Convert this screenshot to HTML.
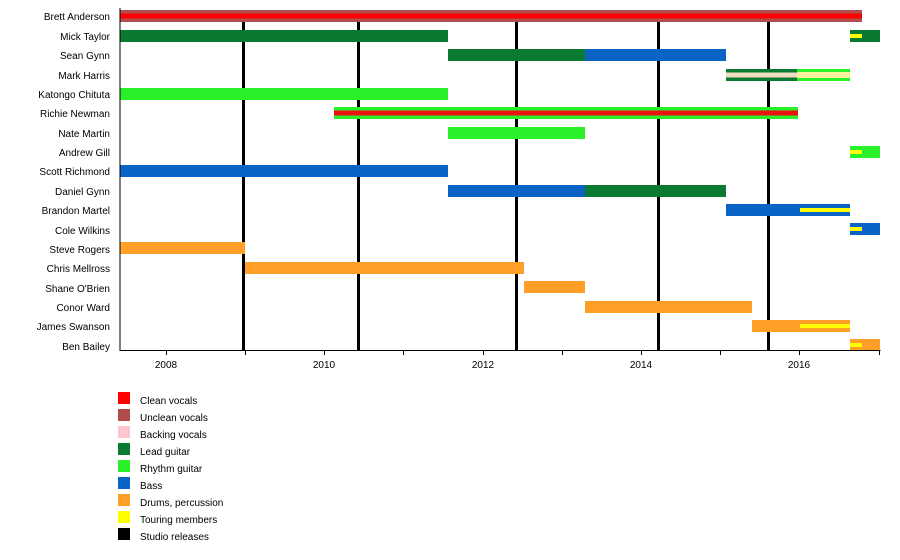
<!DOCTYPE html>
<html><head><meta charset="utf-8"><style>
html,body{margin:0;padding:0;background:#fff;}
svg{display:block;font-family:"Liberation Sans",Arial,sans-serif;}
</style></head><body>
<svg width="900" height="560" viewBox="0 0 900 560" xmlns="http://www.w3.org/2000/svg">
<g fill="#000">
<rect x="242" y="10" width="3" height="340"/>
<rect x="357" y="10" width="3" height="340"/>
<rect x="515" y="10" width="3" height="340"/>
<rect x="657" y="10" width="3" height="340"/>
<rect x="767" y="10" width="3" height="340"/>
</g>
<g>
<rect x="120" y="10" width="742" height="12" fill="#b04c4c"/>
<rect x="120" y="13.5" width="742" height="5" fill="#ff0000"/>
<rect x="120" y="30" width="328" height="12" fill="#0a7a32"/>
<rect x="850" y="30" width="30" height="12" fill="#0a7a32"/>
<rect x="850" y="34" width="12" height="4" fill="#ffff00"/>
<rect x="448" y="49" width="137" height="12" fill="#0a7a32"/>
<rect x="585" y="49" width="141" height="12" fill="#0a64c8"/>
<rect x="726" y="69" width="124" height="12" fill="#0a7a32"/>
<rect x="797" y="69" width="53" height="12" fill="#2af02a"/>
<rect x="726" y="72.5" width="71" height="5" fill="#f0dcc0"/>
<rect x="797" y="72" width="53" height="6" fill="#f8f09a"/>
<rect x="120" y="88" width="328" height="12" fill="#2af02a"/>
<rect x="334" y="107" width="464" height="12" fill="#2af02a"/>
<rect x="334" y="110.5" width="464" height="5" fill="#ee1111"/>
<rect x="448" y="127" width="137" height="12" fill="#2af02a"/>
<rect x="850" y="146" width="30" height="12" fill="#2af02a"/>
<rect x="850" y="150" width="12" height="4" fill="#ffff00"/>
<rect x="120" y="165" width="328" height="12" fill="#0a64c8"/>
<rect x="448" y="185" width="137" height="12" fill="#0a64c8"/>
<rect x="585" y="185" width="141" height="12" fill="#0a7a32"/>
<rect x="726" y="204" width="124" height="12" fill="#0a64c8"/>
<rect x="800" y="208" width="50" height="4" fill="#ffff00"/>
<rect x="850" y="223" width="30" height="12" fill="#0a64c8"/>
<rect x="850" y="227" width="12" height="4" fill="#ffff00"/>
<rect x="120" y="242" width="125" height="12" fill="#ff9f28"/>
<rect x="245" y="262" width="279" height="12" fill="#ff9f28"/>
<rect x="524" y="281" width="61" height="12" fill="#ff9f28"/>
<rect x="585" y="301" width="167" height="12" fill="#ff9f28"/>
<rect x="752" y="320" width="98" height="12" fill="#ff9f28"/>
<rect x="800" y="324" width="50" height="4" fill="#ffff00"/>
<rect x="850" y="339" width="30" height="11" fill="#ff9f28"/>
<rect x="850" y="343" width="12" height="4" fill="#ffff00"/>
</g>
<rect x="119.5" y="8" width="1" height="343" fill="#000"/>
<rect x="119.5" y="350" width="761" height="1" fill="#000"/>
<g fill="#000">
<rect x="166" y="351" width="1" height="4"/>
<rect x="245" y="351" width="1" height="4"/>
<rect x="324" y="351" width="1" height="4"/>
<rect x="403" y="351" width="1" height="4"/>
<rect x="483" y="351" width="1" height="4"/>
<rect x="562" y="351" width="1" height="4"/>
<rect x="641" y="351" width="1" height="4"/>
<rect x="720" y="351" width="1" height="4"/>
<rect x="799" y="351" width="1" height="4"/>
<rect x="879" y="351" width="1" height="4"/>
</g>
<g font-size="10" fill="#000" text-anchor="middle">
<text x="166" y="368">2008</text>
<text x="324" y="368">2010</text>
<text x="483" y="368">2012</text>
<text x="641" y="368">2014</text>
<text x="799" y="368">2016</text>
</g>
<g font-size="10" fill="#000" text-anchor="end">
<text x="110" y="20">Brett Anderson</text>
<text x="110" y="40">Mick Taylor</text>
<text x="110" y="59">Sean Gynn</text>
<text x="110" y="79">Mark Harris</text>
<text x="110" y="98">Katongo Chituta</text>
<text x="110" y="117">Richie Newman</text>
<text x="110" y="137">Nate Martin</text>
<text x="110" y="156">Andrew Gill</text>
<text x="110" y="175">Scott Richmond</text>
<text x="110" y="195">Daniel Gynn</text>
<text x="110" y="214">Brandon Martel</text>
<text x="110" y="234">Cole Wilkins</text>
<text x="110" y="253">Steve Rogers</text>
<text x="110" y="272">Chris Mellross</text>
<text x="110" y="292">Shane O'Brien</text>
<text x="110" y="311">Conor Ward</text>
<text x="110" y="330">James Swanson</text>
<text x="110" y="350">Ben Bailey</text>
</g>
<g>
<rect x="118" y="392" width="12" height="12" fill="#ff0000"/>
<rect x="118" y="409" width="12" height="12" fill="#b04c4c"/>
<rect x="118" y="426" width="12" height="12" fill="#ffc8d0"/>
<rect x="118" y="443" width="12" height="12" fill="#0a7a32"/>
<rect x="118" y="460" width="12" height="12" fill="#2af02a"/>
<rect x="118" y="477" width="12" height="12" fill="#0a64c8"/>
<rect x="118" y="494" width="12" height="12" fill="#ff9f28"/>
<rect x="118" y="511" width="12" height="12" fill="#ffff00"/>
<rect x="118" y="528" width="12" height="12" fill="#000"/>
</g>
<g font-size="10" fill="#000">
<text x="140" y="404">Clean vocals</text>
<text x="140" y="421">Unclean vocals</text>
<text x="140" y="438">Backing vocals</text>
<text x="140" y="455">Lead guitar</text>
<text x="140" y="472">Rhythm guitar</text>
<text x="140" y="489">Bass</text>
<text x="140" y="506">Drums, percussion</text>
<text x="140" y="523">Touring members</text>
<text x="140" y="540">Studio releases</text>
</g>
</svg>
</body></html>
